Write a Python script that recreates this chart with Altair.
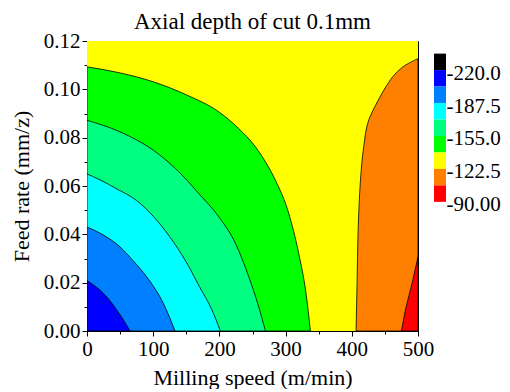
import altair as alt
import pandas as pd

FONT = "Liberation Serif"

# ---- contour boundaries (speed m/min, feed mm/z) ----
c1_speed = [0, 12, 24.8, 35, 44.9, 55, 65]
c1_feed = [0.0209, 0.0186, 0.0156, 0.0124, 0.0087, 0.0046, 0.0]

c2_speed = [0, 24.8, 49.9, 70, 90.2, 115.4, 133]
c2_feed = [0.0430, 0.0397, 0.0348, 0.0290, 0.0224, 0.0114, 0.0]

c3_speed = [0, 20, 45, 75, 100, 125, 150, 170, 188.8, 201.5]
c3_feed = [0.0650, 0.0625, 0.0588, 0.0540, 0.0475, 0.0390, 0.0285, 0.0183, 0.0087, 0.0]

c4_speed = [0, 49.9, 100.3, 151, 168.7, 199, 224.2, 244.3, 259.4, 269.5]
c4_feed = [0.0872, 0.0824, 0.0748, 0.0624, 0.0569, 0.0473, 0.0363, 0.0225, 0.0100, 0.0]

c5_speed = [0, 49.9, 100.3, 151, 199, 229, 254.4, 269.5, 284.6, 304.7, 319.8, 330.8, 337.5]
c5_feed = [0.1093, 0.1068, 0.1031, 0.0976, 0.0907, 0.0838, 0.0762, 0.0700, 0.0624, 0.0487, 0.0321, 0.0156, 0.0]

# right-hand boundaries (ordered by feed)
co_feed = [0.0, 0.020, 0.040, 0.055, 0.0620, 0.0762, 0.0872, 0.0955, 0.1017, 0.1065, 0.1100, 0.1127]
co_speed = [406.4, 408.0, 409.4, 411.5, 413.0, 418.0, 425.5, 440.0, 453.0, 466.0, 481.0, 500.0]

cr_feed = [0.0, 0.0087, 0.0197, 0.0307]
cr_speed = [475.0, 481.0, 491.0, 500.0]

# ---- colour levels ----
band_lo = [-236.25, -220.0, -203.75, -187.5, -171.25, -155.0, -138.75, -122.5, -106.25]
band_hi = [-220.0, -203.75, -187.5, -171.25, -155.0, -138.75, -122.5, -106.25, -90.0]
band_colors = ["#000000", "#0000ff", "#0080ff", "#00ffff", "#00ff80",
               "#00ff00", "#ffff00", "#ff8000", "#ff0000"]
legend_ticks = [-220.0, -187.5, -155.0, -122.5, -90.0]

speed_ticks = [0, 50, 100, 150, 200, 250, 300, 350, 400, 450, 500]
feed_ticks = [0.0, 0.01, 0.02, 0.03, 0.04, 0.05, 0.06, 0.07, 0.08, 0.09, 0.10, 0.11, 0.12]

xs = alt.Scale(domain=[speed_ticks[0], speed_ticks[-1]], nice=False, zero=False)
ys = alt.Scale(domain=[feed_ticks[0], feed_ticks[-1]], nice=False, zero=False)

x_axis = alt.Axis(
    values=speed_ticks, labelExpr="datum.value % 100 === 0 ? datum.label : ''",
    tickSize={"condition": {"test": "datum.value % 100 === 0", "value": 5}, "value": 3},
    title="Milling speed (m/min)", labelPadding=2, titlePadding=8)
y_axis = alt.Axis(
    values=feed_ticks, format=".2f",
    labelExpr="round(datum.value * 100) % 2 === 0 ? datum.label : ''",
    tickSize={"condition": {"test": "round(datum.value * 100) % 2 === 0", "value": 5}, "value": 3},
    title="Feed rate (mm/z)", labelPadding=2, titlePadding=10)

bg_df = pd.DataFrame({"speed": [speed_ticks[0]], "speed_end": [speed_ticks[-1]],
                      "feed": [feed_ticks[0]], "feed_end": [feed_ticks[-1]]})
background = alt.Chart(bg_df).mark_rect(fill=band_colors[6]).encode(
    x=alt.X("speed:Q", scale=xs, axis=x_axis), x2="speed_end:Q",
    y=alt.Y("feed:Q", scale=ys, axis=y_axis), y2="feed_end:Q")


def vband(speed, feed, color):
    df = pd.DataFrame({"speed": speed, "feed": feed})
    return alt.Chart(df).mark_area(interpolate="monotone", fill=color, stroke="black",
                                   strokeWidth=0.8, clip=True).encode(
        x=alt.X("speed:Q", scale=xs, axis=x_axis),
        y=alt.Y("feed:Q", scale=ys, axis=y_axis, stack=None))


def hband(speed, feed, color):
    df = pd.DataFrame({"speed": speed, "feed": feed})
    return alt.Chart(df).mark_area(orient="horizontal", interpolate="monotone", fill=color,
                                   stroke="black", strokeWidth=0.8, clip=True).encode(
        y=alt.Y("feed:Q", scale=ys, axis=y_axis, stack=None),
        x=alt.X("speed:Q", scale=xs, axis=x_axis),
        x2=alt.datum(speed_ticks[-1]))


main = alt.layer(
    background,
    vband(c5_speed, c5_feed, band_colors[5]),
    vband(c4_speed, c4_feed, band_colors[4]),
    vband(c3_speed, c3_feed, band_colors[3]),
    vband(c2_speed, c2_feed, band_colors[2]),
    vband(c1_speed, c1_feed, band_colors[1]),
    hband(co_speed, co_feed, band_colors[7]),
    hband(cr_speed, cr_feed, band_colors[8]),
).properties(
    width=331, height=290,
    view=alt.ViewBackground(stroke="black", strokeWidth=1),
    title=alt.Title("Axial depth of cut 0.1mm", fontSize=23, font=FONT,
                    fontWeight="normal", color="black", offset=-4),
)

bar_df = pd.DataFrame({"lo": band_lo, "hi": band_hi, "color": band_colors})
bar = alt.Chart(bar_df).mark_rect().encode(
    y=alt.Y("lo:Q", scale=alt.Scale(domain=[37.4, -248.7], nice=False, zero=False),
            axis=alt.Axis(orient="right", values=legend_ticks,
                          labelExpr="datum.value === -90 ? '-90.00' : '-' + format(abs(datum.value), '.1f')",
                          ticks=False, domain=False, title=None,
                          labelPadding=0, labelOffset=3)),
    y2="hi:Q",
    color=alt.Color("color:N", scale=None),
).properties(width=12, height=290, view=alt.ViewBackground(strokeWidth=0))

chart = alt.hconcat(main, bar, spacing=16, bounds="flush").properties(
    padding={"left": 1, "top": 2, "right": 0, "bottom": 0}
).configure_view(strokeWidth=0).configure_axis(
    labelFont=FONT, titleFont=FONT, labelFontSize=21, titleFontSize=22,
    titleFontWeight="normal", labelColor="black", titleColor="black",
    tickColor="black", domainColor="black", grid=False, labelFlush=False,
).configure_title(font=FONT)

chart.save("out.html", embed_options={"renderer": "svg", "actions": False})
